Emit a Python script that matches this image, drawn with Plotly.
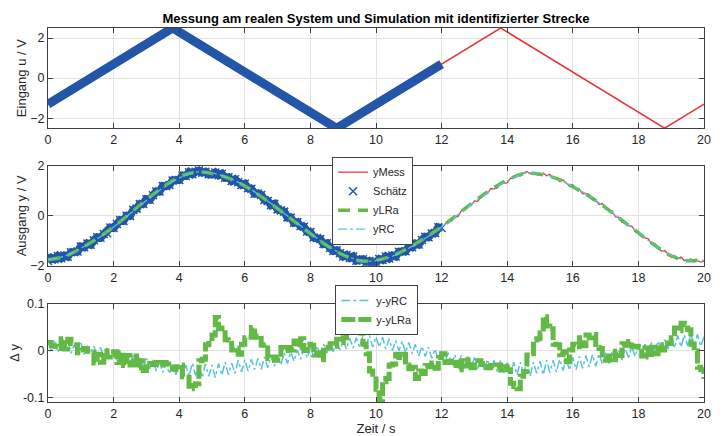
import numpy as np
import plotly.graph_objects as go

# --- Eingang u(t): Dreiecksignal (Eckpunkte) ---
T_U = [0.0, 3.8, 8.8, 13.8, 18.8, 20.0]
U_MESS = [-1.3, 2.5, -2.5, 2.5, -2.5, -1.3]
# Ausschnitt, der zur Schätzung benutzt wurde
T_U_EST = [0.0, 3.8, 8.8, 12.0]
U_EST = [-1.3, 2.5, -2.5, 0.7]

# --- Modellausgänge (alle 0.5 s) ---
T_MODELL = [0.0, 0.5, 1.0, 1.5, 2.0, 2.5, 3.0, 3.5, 4.0, 4.5,
            5.0, 5.5, 6.0, 6.5, 7.0, 7.5, 8.0, 8.5, 9.0, 9.5,
            10.0, 10.5, 11.0, 11.5, 12.0, 12.5, 13.0, 13.5, 14.0, 14.5,
            15.0, 15.5, 16.0, 16.5, 17.0, 17.5, 18.0, 18.5, 19.0, 19.5, 20.0]
Y_LRA = [-1.76, -1.63, -1.30, -0.91, -0.44, 0.10, 0.65, 1.15, 1.56, 1.75,
         1.70, 1.51, 1.20, 0.77, 0.29, -0.21, -0.71, -1.19, -1.57, -1.80,
         -1.78, -1.60, -1.28, -0.88, -0.44, 0.07, 0.58, 1.05, 1.44, 1.69,
         1.67, 1.50, 1.17, 0.79, 0.33, -0.18, -0.68, -1.18, -1.60, -1.80, -1.74]
Y_RC = [-1.75, -1.62, -1.30, -0.92, -0.45, 0.08, 0.62, 1.12, 1.52, 1.75,
        1.72, 1.52, 1.22, 0.78, 0.30, -0.20, -0.70, -1.18, -1.55, -1.78,
        -1.80, -1.62, -1.30, -0.90, -0.45, 0.05, 0.55, 1.02, 1.40, 1.70,
        1.70, 1.50, 1.18, 0.80, 0.32, -0.18, -0.68, -1.18, -1.58, -1.78, -1.78]

# --- Messung y(t), Abtastung 0.1 s ---
Y_MESS = [
    -1.81, -1.68, -1.74, -1.61, -1.70, -1.59, -1.64, -1.46, -1.45, -1.43,
    -1.23, -1.26, -1.11, -1.16, -0.98, -0.86, -0.88, -0.73, -0.70, -0.47,
    -0.49, -0.33, -0.17, -0.20, 0.00, 0.00, 0.24, 0.29, 0.47, 0.48,
    0.67, 0.65, 0.83, 0.98, 0.98, 1.20, 1.19, 1.24, 1.42, 1.44,
    1.44, 1.62, 1.60, 1.75, 1.67, 1.77, 1.82, 1.73, 1.77, 1.67,
    1.66, 1.74, 1.63, 1.69, 1.53, 1.55, 1.40, 1.47, 1.35, 1.24,
    1.29, 1.11, 1.09, 0.89, 0.90, 0.84, 0.64, 0.60, 0.43, 0.48,
    0.26, 0.22, 0.17, -0.06, -0.07, -0.28, -0.25, -0.41, -0.44, -0.63,
    -0.65, -0.87, -0.89, -0.93, -1.13, -1.10, -1.29, -1.41, -1.38, -1.50,
    -1.63, -1.57, -1.69, -1.63, -1.80, -1.76, -1.74, -1.86, -1.81, -1.88,
    -1.86, -1.73, -1.77, -1.63, -1.71, -1.59, -1.63, -1.44, -1.44, -1.42,
    -1.23, -1.26, -1.11, -1.15, -0.97, -0.84, -0.86, -0.71, -0.69, -0.46,
    -0.49, -0.33, -0.18, -0.21, -0.02, -0.03, 0.20, 0.24, 0.41, 0.42,
    0.60, 0.58, 0.75, 0.90, 0.89, 1.10, 1.08, 1.12, 1.30, 1.32,
    1.32, 1.51, 1.50, 1.66, 1.60, 1.72, 1.78, 1.69, 1.74, 1.65,
    1.64, 1.72, 1.61, 1.67, 1.51, 1.53, 1.37, 1.44, 1.31, 1.20,
    1.25, 1.08, 1.07, 0.88, 0.90, 0.86, 0.65, 0.62, 0.45, 0.50,
    0.28, 0.24, 0.19, -0.04, -0.05, -0.26, -0.23, -0.39, -0.42, -0.61,
    -0.63, -0.85, -0.87, -0.92, -1.12, -1.10, -1.29, -1.41, -1.39, -1.52,
    -1.66, -1.59, -1.71, -1.65, -1.80, -1.76, -1.73, -1.84, -1.79, -1.86,
    -1.82]

# --- Abweichungen Messung - Modell, Abtastung 0.1 s ---
D_RC = [
    0.018, 0.002, 0.021, -0.003, 0.015, 0.005, 0.023, -0.005, 0.013, 0.000,
    0.017, -0.007, 0.011, -0.003, 0.010, -0.011, 0.007, -0.013, 0.006, -0.015,
    0.002, -0.021, -0.002, -0.023, -0.007, -0.027, -0.010, -0.031, -0.012, -0.035,
    -0.016, -0.038, -0.019, -0.043, -0.022, -0.046, -0.025, -0.049, -0.026, -0.051,
    -0.028, -0.053, -0.030, -0.055, -0.026, -0.052, -0.031, -0.057, -0.028, -0.054,
    -0.030, -0.057, -0.027, -0.052, -0.024, -0.051, -0.026, -0.048, -0.020, -0.045,
    -0.019, -0.043, -0.018, -0.040, -0.016, -0.039, -0.013, -0.036, -0.010, -0.033,
    -0.008, -0.030, -0.004, -0.027, -0.002, -0.022, 0.002, -0.018, 0.004, -0.015,
    0.006, -0.012, 0.011, -0.008, 0.014, -0.005, 0.016, -0.002, 0.021, 0.002,
    0.022, 0.004, 0.027, 0.006, 0.028, 0.008, 0.031, 0.010, 0.033, 0.008,
    0.030, 0.008, 0.029, 0.004, 0.026, 0.001, 0.022, 0.000, 0.021, -0.004,
    0.018, -0.006, 0.014, -0.011, 0.010, -0.012, 0.008, -0.016, 0.004, -0.021,
    0.000, -0.024, -0.004, -0.029, -0.008, -0.030, -0.010, -0.034, -0.012, -0.037,
    -0.014, -0.038, -0.016, -0.041, -0.018, -0.042, -0.020, -0.045, -0.020, -0.047,
    -0.022, -0.048, -0.024, -0.051, -0.024, -0.050, -0.022, -0.053, -0.024, -0.048,
    -0.022, -0.051, -0.020, -0.046, -0.020, -0.045, -0.018, -0.042, -0.016, -0.041,
    -0.014, -0.040, -0.012, -0.037, -0.010, -0.034, -0.008, -0.033, -0.006, -0.028,
    -0.004, -0.027, -0.002, -0.022, 0.002, -0.019, 0.004, -0.014, 0.008, -0.012,
    0.011, -0.008, 0.014, -0.005, 0.018, -0.002, 0.021, 0.002, 0.024, 0.004,
    0.028, 0.006, 0.033, 0.008, 0.034, 0.011, 0.036, 0.012, 0.035, 0.010,
    0.030]
D_LRA = [
    0.018, 0.011, 0.010, 0.005, 0.026, 0.004, 0.025, 0.016, 0.013, -0.004,
    0.002, 0.005, -0.001, -0.003, -0.026, -0.007, -0.024, 0.000, -0.013, -0.008,
    -0.002, -0.025, -0.004, -0.031, -0.010, -0.030, -0.011, -0.036, -0.021, -0.042,
    -0.034, -0.027, -0.029, -0.025, -0.030, -0.025, -0.028, -0.028, -0.039, -0.034,
    -0.030, -0.055, -0.056, -0.081, -0.074, -0.070, -0.021, -0.018, 0.013, 0.016,
    0.034, 0.071, 0.047, 0.049, 0.024, 0.023, 0.002, 0.006, -0.007, 0.014,
    0.028, 0.029, 0.050, 0.029, 0.032, 0.012, 0.013, -0.016, -0.013, -0.020,
    -0.014, 0.007, 0.001, 0.007, 0.002, 0.021, 0.008, 0.026, 0.001, 0.014,
    0.012, -0.009, -0.004, -0.019, 0.008, 0.006, 0.015, 0.010, 0.025, 0.018,
    0.028, 0.049, 0.045, 0.061, 0.038, 0.045, 0.014, -0.006, -0.043, -0.050,
    -0.082, -0.105, -0.066, -0.059, -0.030, -0.028, -0.007, -0.014, -0.007, -0.030,
    -0.038, -0.035, -0.059, -0.043, -0.048, -0.031, -0.034, -0.026, -0.037, -0.014,
    -0.006, -0.025, -0.022, -0.031, -0.024, -0.040, -0.021, -0.032, -0.019, -0.036,
    -0.030, -0.021, -0.029, -0.027, -0.036, -0.031, -0.034, -0.030, -0.041, -0.034,
    -0.040, -0.069, -0.076, -0.081, -0.054, -0.044, -0.009, -0.006, 0.023, 0.026,
    0.038, 0.073, 0.053, 0.047, 0.014, 0.013, -0.008, -0.002, -0.023, 0.002,
    0.014, 0.009, 0.028, 0.011, 0.034, 0.028, 0.035, 0.008, 0.005, -0.016,
    -0.020, -0.011, -0.019, -0.001, -0.010, 0.015, 0.012, 0.020, 0.009, 0.010,
    0.008, -0.011, 0.006, -0.013, 0.008, -0.006, 0.013, 0.002, 0.017, 0.016,
    0.028, 0.049, 0.043, 0.059, 0.056, 0.045, 0.014, 0.000, -0.035, -0.040,
    -0.060]

T_MESS = np.round(np.arange(len(Y_MESS)) * 0.1, 1)
T_EST_ENDE = 12.0

ROT = "#ED3434"
BLAU = "#2356A8"
GRUEN = "#62B946"
CYAN = "#55C3DC"
TEXT = "#262626"
FONT = "Liberation Sans, Arial, sans-serif"

t_mess = np.asarray(T_MESS)
y_mess = np.asarray(Y_MESS)
est = t_mess <= T_EST_ENDE + 1e-9

fig = go.Figure()

# Oberes Diagramm: Eingang
fig.add_trace(go.Scatter(x=T_U, y=U_MESS, mode="lines", line=dict(color=ROT, width=1.5),
                         xaxis="x", yaxis="y", showlegend=False))
fig.add_trace(go.Scatter(x=T_U_EST, y=U_EST, mode="lines", line=dict(color=BLAU, width=9),
                         xaxis="x", yaxis="y", showlegend=False))

# Mittleres Diagramm: Ausgang
fig.add_trace(go.Scatter(x=t_mess, y=y_mess, mode="lines", name="yMess",
                         line=dict(color=ROT, width=1.2), xaxis="x2", yaxis="y2",
                         legend="legend"))
fig.add_trace(go.Scatter(x=t_mess[est], y=y_mess[est], mode="lines", showlegend=False,
                         line=dict(color=BLAU, width=8), xaxis="x2", yaxis="y2",
                         legendgroup="schaetz", hoverinfo="skip"))
fig.add_trace(go.Scatter(x=t_mess[est], y=y_mess[est], mode="markers", name="Schätz",
                         marker=dict(symbol="x-thin", size=8, color=BLAU,
                                     line=dict(color=BLAU, width=1.5)),
                         xaxis="x2", yaxis="y2", legend="legend", legendgroup="schaetz"))
fig.add_trace(go.Scatter(x=T_MODELL, y=Y_LRA, mode="lines", name="yLRa", line_shape="spline",
                         line=dict(color=GRUEN, width=3.5, dash="12px,8px"),
                         xaxis="x2", yaxis="y2", legend="legend"))
fig.add_trace(go.Scatter(x=T_MODELL, y=Y_RC, mode="lines", name="yRC", line_shape="spline",
                         line=dict(color=CYAN, width=1.3, dash="dashdot"),
                         xaxis="x2", yaxis="y2", legend="legend"))

# Unteres Diagramm: Abweichungen
fig.add_trace(go.Scatter(x=t_mess, y=D_RC, mode="lines", name="y-yRC",
                         line=dict(color=CYAN, width=1.5, dash="dashdot"),
                         xaxis="x3", yaxis="y3", legend="legend2"))
fig.add_trace(go.Scatter(x=t_mess, y=D_LRA, mode="lines", name="y-yLRa", line_shape="hv",
                         line=dict(color=GRUEN, width=5, dash="14px,3px"),
                         xaxis="x3", yaxis="y3", legend="legend2"))

achse = dict(showline=True, mirror="ticks", linecolor="#404040", linewidth=1,
             ticks="inside", ticklen=5, tickcolor="#404040", automargin=False,
             showgrid=True, gridcolor="#E2E2E2", gridwidth=1, zeroline=False,
             tickfont=dict(family=FONT, size=12.5, color=TEXT))
xachse = dict(achse, range=[0, 20], tickvals=list(range(0, 21, 2)))
titelfont = dict(family=FONT, size=13, color=TEXT)

fig.update_layout(
    width=726, height=436,
    margin=dict(l=48, r=22, t=28, b=34),
    paper_bgcolor="white", plot_bgcolor="white",
    font=dict(family=FONT, color=TEXT),
    title=dict(text="<b>Messung am realen System und Simulation mit identifizierter Strecke</b>",
               x=0.5, xref="paper", xanchor="center", y=1 - 18 / 436, yanchor="middle",
               font=dict(family=FONT, size=13, color="black")),
    xaxis=dict(xachse, domain=[0, 1], anchor="y"),
    xaxis2=dict(xachse, domain=[0, 1], anchor="y2"),
    xaxis3=dict(xachse, domain=[0, 1], anchor="y3",
                title=dict(text="Zeit / s", font=titelfont, standoff=2)),
    yaxis=dict(achse, domain=[0.732, 1.0], range=[-2.5, 2.5], tickvals=[-2, 0, 2], anchor="x",
               title=dict(text="Eingang u / V", font=titelfont, standoff=0)),
    yaxis2=dict(achse, domain=[0.3644, 0.631], range=[-2, 2], tickvals=[-2, 0, 2], anchor="x2",
                title=dict(text="Ausgang y / V", font=titelfont, standoff=0)),
    yaxis3=dict(achse, domain=[0.0, 0.262], range=[-0.109, 0.1], tickvals=[-0.1, 0, 0.1],
                ticktext=["-0.1", "0", "0.1"], anchor="x3",
                title=dict(text="Δ y", font=titelfont, standoff=0)),
    legend=dict(x=0.433, y=0.656, xanchor="left", yanchor="top", bgcolor="white",
                bordercolor="#404040", borderwidth=1, font=dict(family=FONT, size=11, color=TEXT),
                tracegroupgap=0, itemwidth=30),
    legend2=dict(x=0.438, y=0.313, xanchor="left", yanchor="top", bgcolor="white",
                 bordercolor="#404040", borderwidth=1, font=dict(family=FONT, size=11, color=TEXT),
                 tracegroupgap=0, itemwidth=30),
)

fig.write_html("out.html")
